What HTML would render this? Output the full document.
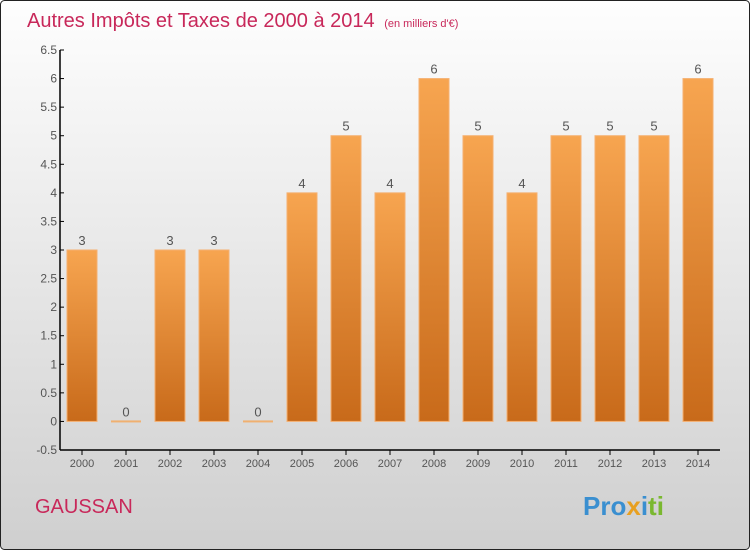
<!DOCTYPE html>
<html><head><meta charset="utf-8"><style>
body{margin:0;width:750px;height:550px;overflow:hidden}
svg{display:block;font-family:"Liberation Sans",sans-serif}
</style></head><body>
<svg width="750" height="550">
<defs>
<linearGradient id="bg" x1="0" y1="0" x2="0" y2="1"><stop offset="0" stop-color="#fefefe"/><stop offset="1" stop-color="#cfcfcf"/></linearGradient>
<linearGradient id="bar" x1="0" y1="0" x2="0" y2="1"><stop offset="0" stop-color="#f7a550"/><stop offset="1" stop-color="#c86a1a"/></linearGradient>
</defs>
<rect x="0.5" y="0.5" width="749" height="549" rx="4" fill="url(#bg)" stroke="#222"/>
<text x="27" y="27" font-size="20" fill="#c8285a">Autres Impôts et Taxes de 2000 à 2014 <tspan font-size="11" dx="4">(en milliers d'€)</tspan></text>
<text x="35" y="513" font-size="20" fill="#c8285a">GAUSSAN</text>
<text x="583" y="515" font-size="26" font-weight="bold"><tspan fill="#3a8fd0">Pro</tspan><tspan fill="#e8a020">x</tspan><tspan fill="#3a8fd0">i</tspan><tspan fill="#7ab830">ti</tspan></text>
<g id="axes"></g>
<g id="bars"></g>
</svg>
<script>
const categories=["2000","2001","2002","2003","2004","2005","2006","2007","2008","2009","2010","2011","2012","2013","2014"];
const values=[3,0,3,3,0,4,5,4,6,5,4,5,5,5,6];
const yTicks=[-0.5,0,0.5,1,1.5,2,2.5,3,3.5,4,4.5,5,5.5,6,6.5];
const ns="http://www.w3.org/2000/svg";
const y=v=>421.43-(v*400/7);
const x=i=>82+i*44;
function mk(t,a,p){const e=document.createElementNS(ns,t);for(const k in a)e.setAttribute(k,a[k]);p.appendChild(e);return e;}
const ax=document.getElementById('axes'),bg=document.getElementById('bars');
let l=mk('line',{x1:60,y1:50,x2:60,y2:450,stroke:'#000','stroke-width':1.5},ax);


l=mk('line',{x1:60,y1:450,x2:720,y2:450,stroke:'#000','stroke-width':1.5},ax);


yTicks.forEach(v=>{
  mk('line',{x1:60,y1:y(v),x2:64,y2:y(v),stroke:'#000'},ax);
  const t=mk('text',{x:57,y:y(v)+4,'text-anchor':'end','font-size':12,fill:'#555'},ax);
  t.textContent=String(v);
  
  
});
categories.forEach((c,i)=>{
  mk('line',{x1:x(i),y1:450,x2:x(i),y2:455,stroke:'#000'},ax);
  const t=mk('text',{x:x(i),y:467,'text-anchor':'middle','font-size':11,fill:'#555'},ax);
  t.textContent=c;
  
  
  const v=values[i];
  let r;
  if(v===0){r=mk('rect',{x:x(i)-15,y:y(0)-1,width:30,height:2,fill:'#f0b070'},bg);}
  else r=mk('rect',{x:x(i)-15,y:y(v),width:30,height:y(0)-y(v),fill:'url(#bar)',stroke:'#f5b070','stroke-width':1},bg);
  
  
  const lb=mk('text',{x:x(i),y:y(v)-5,'text-anchor':'middle','font-size':13,fill:'#555'},bg);
  lb.textContent=String(v);
  
  
});
</script>
</body></html>
